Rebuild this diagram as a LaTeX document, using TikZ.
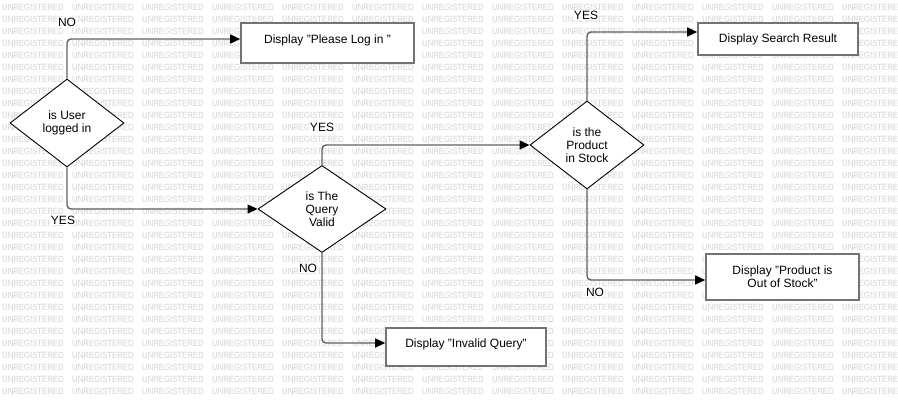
\documentclass[tikz,border=0pt]{standalone}
\usepackage{fontspec}
\setmainfont{Liberation Sans}
\newfontfamily\markfont[FakeStretch=0.86]{Liberation Sans}
\usetikzlibrary{shapes.geometric,arrows.meta}

\definecolor{linegrey}{HTML}{616161}
\definecolor{boxgrey}{HTML}{737373}
\definecolor{markgrey}{HTML}{D2D2D2}

\tikzstyle{watermark} = [anchor=west, inner sep=0pt, text=markgrey, font=\markfont\fontsize{9}{9}\selectfont]
\tikzstyle{decision} = [diamond, draw=black, fill=white, line width=0.9pt, inner sep=0pt, align=center, minimum width=114pt, minimum height=88pt]
\tikzstyle{action} = [rectangle, draw=boxgrey, fill=white, line width=1.6pt, align=center]
\tikzstyle{oneline} = [text height=7.6pt, text depth=7pt]
\tikzstyle{answer} = [fill=white, inner sep=1pt]
\tikzstyle{flow} = [draw=linegrey, line width=1.4pt, rounded corners=4pt, -{Triangle[length=10pt,width=9pt,color=black]}]

\begin{document}
\begin{tikzpicture}[x=1pt, y=-1pt, font=\fontsize{12}{13}\selectfont]
\useasboundingbox[fill=white] (0,0) rectangle (898,407);
%background
\foreach \r in {0,...,32}
    \foreach \c in {0,...,12}
        \node[watermark] at (2+70*\c, 7+12*\r) {UNREGISTERED};
%decisions
\node[decision] (userq) at (67,123) {is User\\logged in};
\node[decision, minimum width=128pt, minimum height=87pt] (queryq) at (322,209) {is The\\Query\\Valid};
\node[decision, minimum height=88pt] (stockq) at (587,145) {is the\\Product\\in Stock};
%messages
\node[action, oneline, minimum width=173pt, minimum height=40pt] (login) at (327.5,43) {Display "Please Log in "};
\node[action, minimum width=160pt, minimum height=32pt] (result) at (778,39) {Display Search Result};
\node[action, minimum width=153pt, minimum height=46pt] (outstock) at (782.5,277) {Display "Product is\\Out of Stock"};
\node[action, oneline, minimum width=160pt, minimum height=38pt] (invalid) at (466,347) {Display "Invalid Query"};
%begin connectors
\draw[flow] (userq.north) |- ([yshift=4pt]login.west);
\draw[flow] (userq.south) |- (queryq.west);
\draw[flow] (queryq.north) |- (stockq.west);
\draw[flow] (queryq.south) |- ([yshift=4pt]invalid.west);
\draw[flow] (stockq.north) |- ([yshift=7pt]result.west);
\draw[flow] (stockq.south) |- ([yshift=-3pt]outstock.west);
%end connectors
%begin answers
\node[answer] (userno) at (67,22) {NO};
\node[answer] (useryes) at (63,220) {YES};
\node[answer] (queryyes) at (322,127) {YES};
\node[answer] (queryno) at (308,268) {NO};
\node[answer] (stockyes) at (586,15) {YES};
\node[answer] (stockno) at (595,292) {NO};
%end answers
\end{tikzpicture}
\end{document}
